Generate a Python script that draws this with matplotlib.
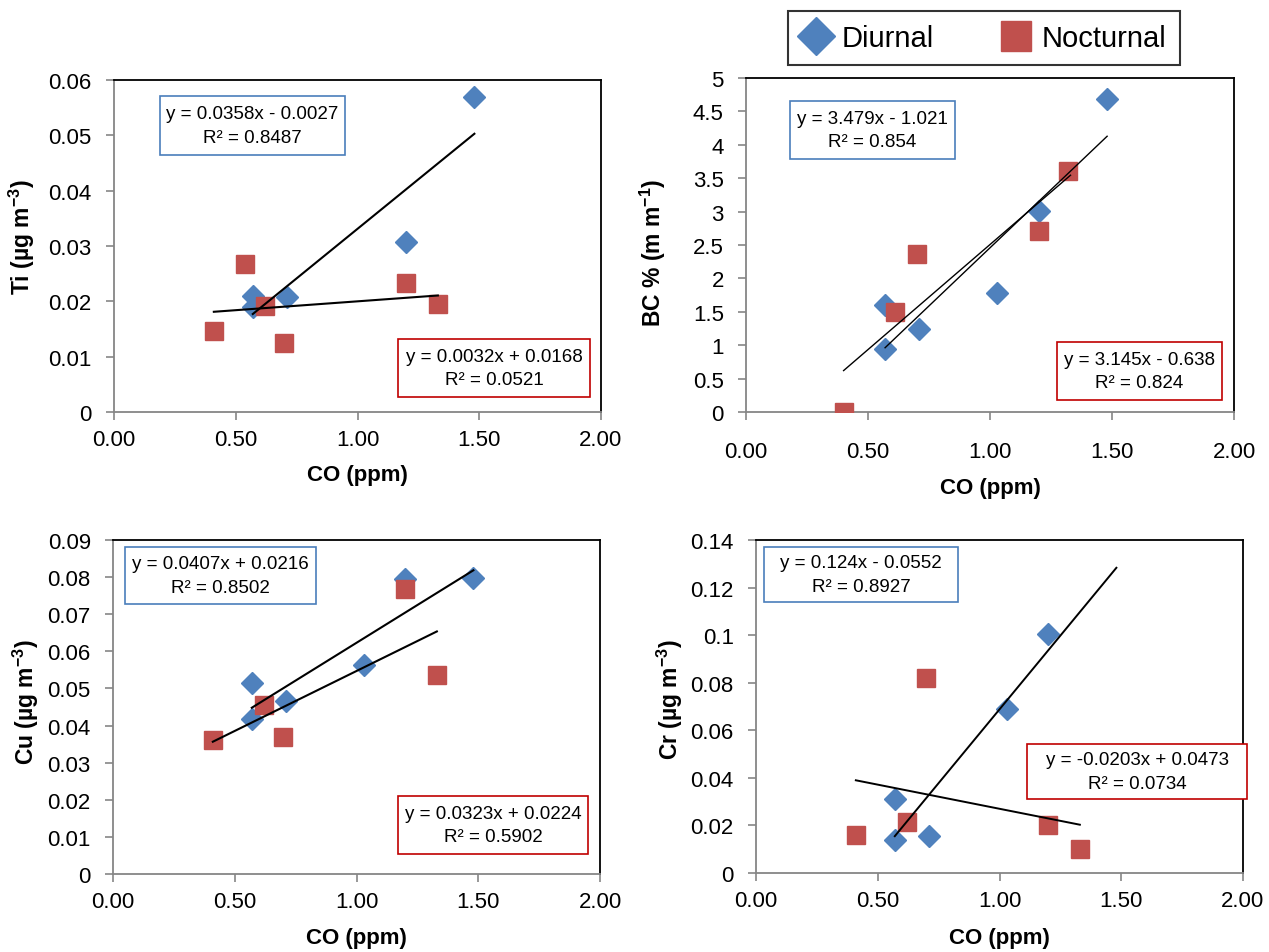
#!/usr/bin/env python3
"""
Four-panel scatter of trace species vs CO, diurnal vs nocturnal samples,
with linear trend lines and the fitted equations in small boxes.
"""

import matplotlib
matplotlib.use("Agg")

import numpy as np
import matplotlib.pyplot as plt
from matplotlib import font_manager
from matplotlib.lines import Line2D
from matplotlib.patches import Rectangle
from matplotlib.ticker import FuncFormatter, MultipleLocator

# ───── data ─────────────────────────────────────────────────────────────
TI_DAY_CO   = [0.57, 0.57, 0.71, 1.20, 1.48]
TI_DAY      = [0.0210, 0.0189, 0.0208, 0.0307, 0.0570]
TI_NIGHT_CO = [0.41, 0.54, 0.62, 0.70, 1.20, 1.33]
TI_NIGHT    = [0.0147, 0.0267, 0.0192, 0.0125, 0.0233, 0.0196]

BC_DAY_CO   = [0.57, 0.57, 0.71, 1.03, 1.20, 1.48]
BC_DAY      = [1.60, 0.95, 1.24, 1.78, 3.01, 4.68]
BC_NIGHT_CO = [0.40, 0.61, 0.70, 1.20, 1.32]
BC_NIGHT    = [0.00, 1.49, 2.37, 2.71, 3.61]

CU_DAY_CO   = [0.57, 0.57, 0.71, 1.03, 1.20, 1.48]
CU_DAY      = [0.0514, 0.0418, 0.0465, 0.0563, 0.0794, 0.0797]
CU_NIGHT_CO = [0.41, 0.62, 0.70, 1.20, 1.33]
CU_NIGHT    = [0.0362, 0.0455, 0.0368, 0.0767, 0.0535]

CR_DAY_CO   = [0.57, 0.57, 0.71, 1.03, 1.20]
CR_DAY      = [0.0312, 0.0137, 0.0157, 0.0689, 0.1004]
CR_NIGHT_CO = [0.41, 0.62, 0.70, 1.20, 1.33]
CR_NIGHT    = [0.0158, 0.0216, 0.0821, 0.0200, 0.0099]

# trend lines: (slope, intercept, x from, x to)
TI_DAY_FIT   = (0.0358, -0.0027, 0.57, 1.48)
TI_NIGHT_FIT = (0.0032, 0.0168, 0.41, 1.33)
BC_DAY_FIT   = (3.479, -1.021, 0.57, 1.48)
BC_NIGHT_FIT = (3.145, -0.638, 0.40, 1.33)
CU_DAY_FIT   = (0.0407, 0.0216, 0.57, 1.48)
CU_NIGHT_FIT = (0.0323, 0.0224, 0.41, 1.33)
CR_DAY_FIT   = (0.124, -0.0552, 0.57, 1.48)
CR_NIGHT_FIT = (-0.0203, 0.0473, 0.41, 1.33)

TI_DAY_EQ   = ["y = 0.0358x - 0.0027", "R² = 0.8487"]
TI_NIGHT_EQ = ["y = 0.0032x + 0.0168", "R² = 0.0521"]
BC_DAY_EQ   = ["y = 3.479x - 1.021", "R² = 0.854"]
BC_NIGHT_EQ = ["y = 3.145x - 0.638", "R² = 0.824"]
CU_DAY_EQ   = ["y = 0.0407x + 0.0216", "R² = 0.8502"]
CU_NIGHT_EQ = ["y = 0.0323x + 0.0224", "R² = 0.5902"]
CR_DAY_EQ   = ["y = 0.124x - 0.0552", "R² = 0.8927"]
CR_NIGHT_EQ = ["y = -0.0203x + 0.0473", "R² = 0.0734"]

X_LABEL = "CO (ppm)"
Y_LABELS = ["Ti (µg m$^{-3}$)", "BC % (m m$^{-1}$)",
            "Cu (µg m$^{-3}$)", "Cr (µg m$^{-3}$)"]
SERIES_NAMES = ["Diurnal", "Nocturnal"]

# ───── style / layout ───────────────────────────────────────────────────
W, H = 1269, 953
BLUE, RED = "#4F81BD", "#C0504D"
BOX_BLUE, BOX_RED = "#4A7EBB", "#C00000"
GREY = "#868686"

names = {f.name for f in font_manager.fontManager.ttflist}
NARROW = "Liberation Sans Narrow" if "Liberation Sans Narrow" in names else "Liberation Sans"

plt.rcParams["font.family"] = ["Liberation Sans", "DejaVu Sans"]
plt.rcParams["mathtext.default"] = "regular"

# axes frames in pixels: left, top, right, bottom
AX_PX = [(114, 81, 601, 413), (746, 79, 1234, 413),
         (113, 541, 600, 875), (756, 541, 1243, 874)]
# equation boxes in pixels: left, top, right, bottom
BOX_PX = [((160, 97, 345, 156), (398, 340, 590, 398)),
          ((790, 102, 955, 160), (1057, 343, 1222, 401)),
          ((125, 548, 316, 605), (398, 797, 588, 855)),
          ((764, 548, 958, 603), (1027, 745, 1247, 800))]
X_PAD = [6, 15, 6, 6]
XLABEL_TOP = [465, 478, 928, 928]
YLABEL_RIGHT = [37, 668, 41, 685]
YLABEL_MID = [237, 253, 702, 700]
LINE_W = [1.5, 1.0, 1.5, 1.4]

PANELS = [
    dict(day=(TI_DAY_CO, TI_DAY), night=(TI_NIGHT_CO, TI_NIGHT),
         fits=(TI_DAY_FIT, TI_NIGHT_FIT), eqs=(TI_DAY_EQ, TI_NIGHT_EQ),
         ylim=(0, 0.06), ystep=0.01),
    dict(day=(BC_DAY_CO, BC_DAY), night=(BC_NIGHT_CO, BC_NIGHT),
         fits=(BC_DAY_FIT, BC_NIGHT_FIT), eqs=(BC_DAY_EQ, BC_NIGHT_EQ),
         ylim=(0, 5), ystep=0.5),
    dict(day=(CU_DAY_CO, CU_DAY), night=(CU_NIGHT_CO, CU_NIGHT),
         fits=(CU_DAY_FIT, CU_NIGHT_FIT), eqs=(CU_DAY_EQ, CU_NIGHT_EQ),
         ylim=(0, 0.09), ystep=0.01),
    dict(day=(CR_DAY_CO, CR_DAY), night=(CR_NIGHT_CO, CR_NIGHT),
         fits=(CR_DAY_FIT, CR_NIGHT_FIT), eqs=(CR_DAY_EQ, CR_NIGHT_EQ),
         ylim=(0, 0.14), ystep=0.02),
]


def fx(px):
    return px / W


def fy(py):
    return 1 - py / H


def eq_box(fig, box, lines, edge):
    l, t, r, b = box
    fig.add_artist(Rectangle((fx(l), fy(b)), fx(r) - fx(l), fy(t) - fy(b),
                             transform=fig.transFigure, fill=True,
                             facecolor="white", edgecolor=edge, lw=1.2,
                             zorder=5))
    fig.text((fx(l) + fx(r)) / 2, (fy(t) + fy(b)) / 2, "\n".join(lines),
             ha="center", va="center", fontsize=13.5,
             family=[NARROW, "DejaVu Sans"], linespacing=1.5, zorder=6)


fig = plt.figure(figsize=(W / 100, H / 100), dpi=100)

for i, p in enumerate(PANELS):
    l, t, r, b = AX_PX[i]
    ax = fig.add_axes([fx(l), fy(b), fx(r) - fx(l), fy(t) - fy(b)])

    ax.plot(*p["day"], "D", color=BLUE, ms=11, mec=BLUE, zorder=3)
    ax.plot(*p["night"], "s", color=RED, ms=13, mec=RED, zorder=4)
    for slope, icpt, x0, x1 in p["fits"]:
        xs = np.array([x0, x1])
        ax.plot(xs, slope * xs + icpt, color="black", lw=LINE_W[i], zorder=5)

    ax.set_xlim(0, 2)
    ax.set_ylim(*p["ylim"])
    ax.xaxis.set_major_locator(MultipleLocator(0.5))
    ax.yaxis.set_major_locator(MultipleLocator(p["ystep"]))
    ax.xaxis.set_major_formatter(FuncFormatter(lambda v, _: f"{v:.2f}"))
    ax.yaxis.set_major_formatter(FuncFormatter(lambda v, _: f"{round(v, 4):g}"))

    for side in ("left", "bottom"):
        ax.spines[side].set_color(GREY)
        ax.spines[side].set_linewidth(1.3)
    for side in ("top", "right"):
        ax.spines[side].set_color("black")
        ax.spines[side].set_linewidth(1.3)

    ax.tick_params(axis="y", direction="out", length=6, width=1.2, color=GREY,
                   labelsize=16, pad=10)
    ax.tick_params(axis="x", direction="out", length=6, width=1.2, color=GREY,
                   labelsize=16, pad=X_PAD[i])

    ax.set_xlabel(X_LABEL, fontsize=16, fontweight="bold")
    ax.xaxis.set_label_coords(0.5, (b - XLABEL_TOP[i]) / (b - t))
    ax.set_ylabel(Y_LABELS[i], fontsize=16.5, fontweight="bold")
    ax.yaxis.set_label_coords((YLABEL_RIGHT[i] - l) / (r - l),
                              (b - YLABEL_MID[i]) / (b - t))

    eq_box(fig, BOX_PX[i][0], p["eqs"][0], BOX_BLUE)
    eq_box(fig, BOX_PX[i][1], p["eqs"][1], BOX_RED)

# ───── legend ───────────────────────────────────────────────────────────
handles = [Line2D([], [], ls="none", marker="D", ms=19, color=BLUE),
           Line2D([], [], ls="none", marker="s", ms=21, color=RED)]
leg = fig.legend(handles, SERIES_NAMES, loc="upper left", ncol=2,
                 bbox_to_anchor=(fx(788), fy(67), fx(1180) - fx(788), fy(12) - fy(67)),
                 mode="expand", borderaxespad=0, fontsize=21, fancybox=False,
                 frameon=True, edgecolor="black", handlelength=1.0,
                 handletextpad=0.4, borderpad=0.45, columnspacing=2.5)
leg.get_frame().set_linewidth(1.5)

fig.savefig("out.png", dpi=100)
